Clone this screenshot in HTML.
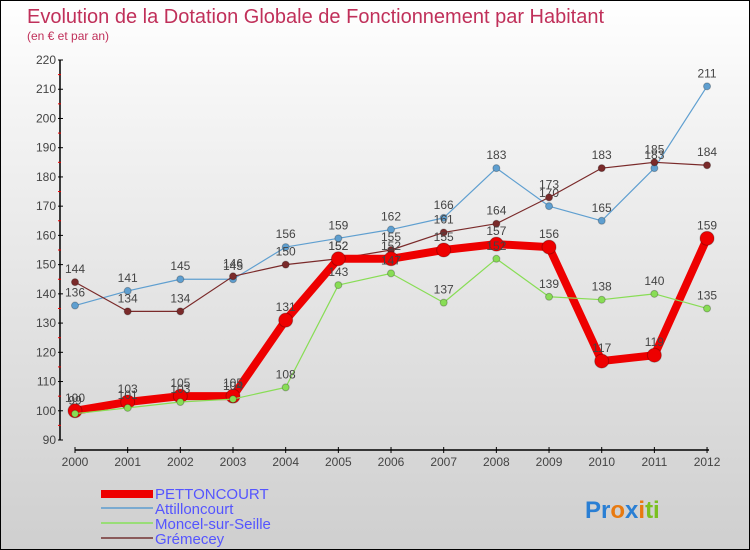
<!DOCTYPE html>
<html><head><meta charset="utf-8"><style>
body{margin:0;}
#c{position:relative;width:748px;height:548px;border:1px solid #000;background:linear-gradient(#fff,#f4f4f4 20%,#cfcfcf);font-family:"Liberation Sans",sans-serif;overflow:hidden}
</style></head><body>
<div id="c">
<svg id="s" width="748" height="548">
<text x="26" y="22" font-size="20" fill="#c0305a">Evolution de la Dotation Globale de Fonctionnement par Habitant</text>
<text x="26" y="39" font-size="12" fill="#c0305a">(en € et par an)</text>
<g id="ax"></g><g id="pl"></g>
<g>
<rect x="100" y="489" width="52" height="8" fill="#e00"/>
<text x="154" y="498" font-size="15" fill="#55f">PETTONCOURT</text>
<line x1="100" y1="507" x2="152" y2="507" stroke="#7aaad0" stroke-width="2"/>
<text x="154" y="513" font-size="15" fill="#55f">Attilloncourt</text>
<line x1="100" y1="522" x2="152" y2="522" stroke="#99dd77" stroke-width="2"/>
<text x="154" y="528" font-size="15" fill="#55f">Moncel-sur-Seille</text>
<line x1="100" y1="537" x2="152" y2="537" stroke="#8a5a5a" stroke-width="2"/>
<text x="154" y="543" font-size="15" fill="#55f">Grémecey</text>
</g>
<text x="584" y="517" font-size="24" font-weight="bold"><tspan fill="#2a7fd4">Pr</tspan><tspan fill="#e87a10">o</tspan><tspan fill="#2a7fd4">x</tspan><tspan fill="#e87a10">i</tspan><tspan fill="#7ac020">ti</tspan></text>
</svg></div>
<script>
const years=[2000,2001,2002,2003,2004,2005,2006,2007,2008,2009,2010,2011,2012];
const yTicks=[90,100,110,120,130,140,150,160,170,180,190,200,210,220];
const pett=[100,103,105,105,131,152,152,155,157,156,117,119,159];
const atti=[136,141,145,145,156,159,162,166,183,170,165,183,211];
const monc=[99,101,103,104,108,143,147,137,152,139,138,140,135];
const grem=[144,134,134,146,150,152,155,161,164,173,183,185,184];
const NS="http://www.w3.org/2000/svg";
const X=i=>74+i*52.67;
const Y=v=>439-(v-90)*2.923;
function mk(p,t,a){const e=document.createElementNS(NS,t);for(const k in a)e.setAttribute(k,a[k]);p.appendChild(e);return e;}
const ax=document.getElementById('ax'),pl=document.getElementById('pl');
let l=mk(ax,'line',{x1:59,y1:Y(220),x2:59,y2:Y(90),stroke:'#000','stroke-width':1.5});


l=mk(ax,'line',{x1:X(0),y1:449,x2:X(12)+2,y2:449,stroke:'#000','stroke-width':1.5});


yTicks.forEach((v,i)=>{
 mk(ax,'line',{x1:57,x2:62,y1:Y(v),y2:Y(v),stroke:'#000'});
 if(i<yTicks.length-1)mk(ax,'line',{x1:57,x2:60,y1:Y(v+5),y2:Y(v+5),stroke:'#e00'});
 const t=mk(ax,'text',{x:55,y:Y(v)+4,'font-size':12,fill:'#444','text-anchor':'end'});
 t.textContent=v;
 
 
});
years.forEach((y,i)=>{
 mk(ax,'line',{x1:X(i),x2:X(i),y1:446,y2:452,stroke:'#000'});
 const t=mk(ax,'text',{x:X(i),y:465,'font-size':12,fill:'#444','text-anchor':'middle'});
 t.textContent=y;
 
 
});
function series(d,col,w,r,name){
 const g=mk(pl,'g',{});
 
 
 const p=mk(g,'polyline',{points:d.map((v,i)=>X(i)+','+Y(v)).join(' '),fill:'none',stroke:col,'stroke-width':w,'stroke-linejoin':'round'});
 
 
 d.forEach((v,i)=>{
  const c=mk(g,'circle',{cx:X(i),cy:Y(v),r:r,fill:col,stroke:'rgba(0,0,0,0.25)'});
  
  
  const t=mk(g,'text',{x:X(i),y:Y(v)-9,'font-size':12,fill:'#444','text-anchor':'middle'});
  t.textContent=v;
  
  
 });
}
series(atti,'#5f9fd0',1.2,3.5,'attilloncourt');
series(grem,'#7a2a2a',1.2,3.5,'gremecey');
series(pett,'#ee0000',8,7,'pettoncourt');
series(monc,'#88dd55',1.2,3.5,'moncel');
</script>
</body></html>
